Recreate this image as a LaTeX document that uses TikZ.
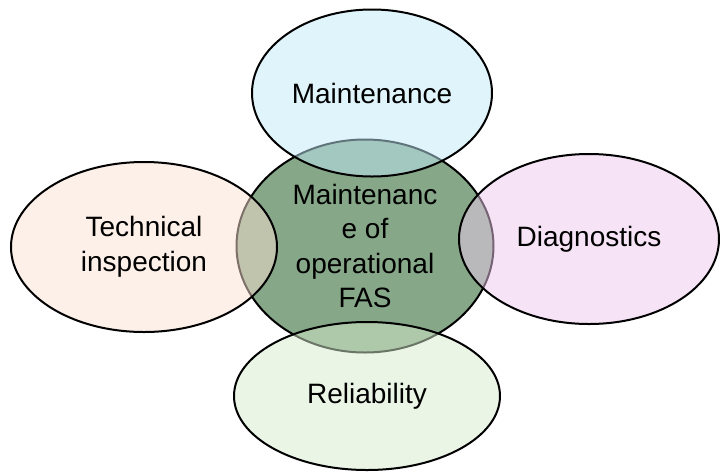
\documentclass[tikz,border=0pt]{standalone}
\usepackage{fontspec}
\setmainfont{Liberation Sans}
\usepackage{xcolor}
\usepackage{tikz}
\usetikzlibrary{shapes.geometric}

\definecolor{fascol}{HTML}{86A788}
\definecolor{maintcol}{HTML}{C1E9F7}
\definecolor{inspcol}{HTML}{FBE1D3}
\definecolor{diagcol}{HTML}{EDC9ED}
\definecolor{relcol}{HTML}{D5EBCD}

\begin{document}
\begin{tikzpicture}[x=1pt, y=-1pt,
  blob/.style={ellipse, draw=black, line width=2pt, inner sep=0pt, align=center,
    font=\fontsize{28}{34.5}\selectfont},
  side/.style={blob, fill opacity=0.5, text opacity=1, draw opacity=1}]
\useasboundingbox (0,0) rectangle (720,472);
% core of the diagram
\node[blob, fill=fascol, minimum width=257pt, minimum height=213pt] (fas) at (365,246)
  {Maintenanc\\e of\\operational\\FAS};
% four areas round it
\node[side, fill=maintcol, minimum width=240pt, minimum height=167pt] (maint) at (372,93) {Maintenance};
\node[side, fill=inspcol, minimum width=266pt, minimum height=170pt] (insp) at (144,247) {Technical\\inspection};
\node[side, fill=diagcol, minimum width=260pt, minimum height=170pt] (diag) at (589,239) {Diagnostics};
\node[side, fill=relcol, minimum width=266pt, minimum height=148pt] (rel) at (367,396) {Reliability};
\end{tikzpicture}
\end{document}
